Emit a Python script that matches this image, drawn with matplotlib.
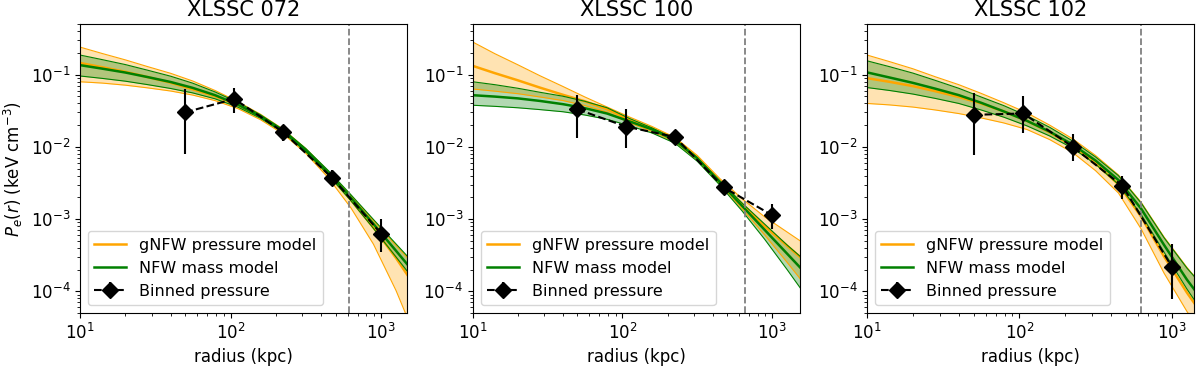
import numpy as np
import matplotlib
matplotlib.use("Agg")
import matplotlib.pyplot as plt

# cluster names, dashed radius marker and x range (kpc)
names = ["XLSSC 072", "XLSSC 100", "XLSSC 102"]
r_vline = [613, 658, 633]
x_max = [1490, 1530, 1400]

r_model = [10, 14, 20, 28, 40, 56, 79, 112, 158, 224, 316, 447, 631, 891, 1259, 1585]

# model curves, log10 of P_e (keV cm^-3): median, upper, lower edge of band
# XLSSC 072
g072_med = [-0.84, -0.898, -0.962, -1.034, -1.113, -1.204, -1.301, -1.421, -1.584, -1.792, -2.06, -2.38, -2.735, -3.118, -3.54, -3.85]
g072_hi = [-0.62, -0.708, -0.797, -0.889, -0.983, -1.089, -1.221, -1.376, -1.549, -1.757, -2.023, -2.338, -2.675, -3.023, -3.365, -3.59]
g072_lo = [-1.10, -1.118, -1.147, -1.184, -1.228, -1.284, -1.361, -1.471, -1.624, -1.822, -2.09, -2.43, -2.845, -3.348, -3.99, -4.49]
n072_med = [-0.87, -0.918, -0.972, -1.034, -1.103, -1.184, -1.286, -1.416, -1.579, -1.782, -2.045, -2.36, -2.705, -3.068, -3.44, -3.69]
n072_hi = [-0.73, -0.793, -0.862, -0.939, -1.023, -1.119, -1.241, -1.386, -1.557, -1.762, -2.023, -2.33, -2.663, -3.006, -3.345, -3.57]
n072_lo = [-1.02, -1.053, -1.092, -1.139, -1.193, -1.254, -1.336, -1.451, -1.604, -1.802, -2.067, -2.39, -2.747, -3.13, -3.525, -3.79]
# XLSSC 100
g100_med = [-0.88, -0.98, -1.08, -1.18, -1.28, -1.37, -1.48, -1.63, -1.75, -1.89, -2.15, -2.48, -2.80, -3.10, -3.37, -3.55]
g100_hi = [-0.55, -0.71, -0.865, -1.015, -1.165, -1.31, -1.45, -1.59, -1.72, -1.87, -2.12, -2.44, -2.72, -2.97, -3.18, -3.32]
g100_lo = [-1.20, -1.23, -1.265, -1.31, -1.36, -1.43, -1.52, -1.67, -1.79, -1.93, -2.18, -2.51, -2.86, -3.22, -3.60, -3.86]
n100_med = [-1.286, -1.305, -1.33, -1.365, -1.41, -1.465, -1.54, -1.65, -1.76, -1.91, -2.16, -2.49, -2.82, -3.15, -3.48, -3.70]
n100_hi = [-1.10, -1.14, -1.19, -1.245, -1.30, -1.37, -1.46, -1.61, -1.74, -1.89, -2.15, -2.47, -2.78, -3.07, -3.36, -3.54]
n100_lo = [-1.425, -1.44, -1.46, -1.485, -1.515, -1.56, -1.62, -1.71, -1.81, -1.95, -2.20, -2.53, -2.89, -3.28, -3.70, -3.99]
# XLSSC 102
g102_med = [-1.05, -1.10, -1.16, -1.23, -1.31, -1.40, -1.51, -1.64, -1.80, -1.99, -2.23, -2.52, -2.97, -3.52, -4.02, -4.32]
g102_hi = [-0.73, -0.82, -0.92, -1.03, -1.14, -1.26, -1.39, -1.53, -1.70, -1.89, -2.12, -2.39, -2.77, -3.25, -3.67, -3.92]
g102_lo = [-1.40, -1.42, -1.45, -1.49, -1.54, -1.60, -1.67, -1.76, -1.90, -2.08, -2.33, -2.64, -3.14, -3.75, -4.28, -4.60]
n102_med = [-0.97, -1.04, -1.115, -1.195, -1.285, -1.39, -1.51, -1.64, -1.79, -1.97, -2.19, -2.46, -2.86, -3.36, -3.84, -4.12]
n102_hi = [-0.81, -0.89, -0.98, -1.08, -1.19, -1.31, -1.43, -1.57, -1.73, -1.92, -2.14, -2.40, -2.78, -3.26, -3.68, -3.92]
n102_lo = [-1.18, -1.22, -1.27, -1.33, -1.40, -1.49, -1.59, -1.71, -1.85, -2.02, -2.24, -2.52, -2.94, -3.46, -3.97, -4.28]

# binned pressure points (keV cm^-3) with upper / lower error ends
r_bins = [50, 106, 224, 475, 1000]
p072 = [0.030, 0.046, 0.016, 0.0037, 0.00063]
p072_up = [0.063, 0.066, 0.020, 0.0047, 0.0010]
p072_dn = [0.0079, 0.029, 0.012, 0.0029, 0.00035]
p100 = [0.033, 0.019, 0.0137, 0.00274, 0.00113]
p100_up = [0.052, 0.033, 0.017, 0.0031, 0.00164]
p100_dn = [0.0134, 0.0095, 0.0112, 0.0024, 0.00072]
p102 = [0.0277, 0.0289, 0.0100, 0.00288, 0.00022]
p102_up = [0.055, 0.0506, 0.0149, 0.0039, 0.00045]
p102_dn = [0.0077, 0.0157, 0.0063, 0.00188, 0.000078]

gnfw = [(g072_med, g072_hi, g072_lo), (g100_med, g100_hi, g100_lo), (g102_med, g102_hi, g102_lo)]
nfw = [(n072_med, n072_hi, n072_lo), (n100_med, n100_hi, n100_lo), (n102_med, n102_hi, n102_lo)]
binned = [(p072, p072_up, p072_dn), (p100, p100_up, p100_dn), (p102, p102_up, p102_dn)]

fig = plt.figure(figsize=(12, 3.7), dpi=100)
lefts = [0.0667, 0.394, 0.7225]

r = np.array(r_model)
for i in range(3):
    ax = fig.add_axes([lefts[i], 0.154, 0.2725, 0.781])

    # gNFW pressure model band
    med, hi, lo = [10 ** np.array(a) for a in gnfw[i]]
    ax.fill_between(r, lo, hi, color="orange", alpha=0.3, lw=0)
    ax.plot(r, hi, color="orange", lw=0.8)
    ax.plot(r, lo, color="orange", lw=0.8)
    ax.plot(r, med, color="orange", lw=1.8, label="gNFW pressure model")

    # NFW mass model band
    med, hi, lo = [10 ** np.array(a) for a in nfw[i]]
    ax.fill_between(r, lo, hi, color="green", alpha=0.3, lw=0)
    ax.plot(r, hi, color="green", lw=0.8)
    ax.plot(r, lo, color="green", lw=0.8)
    ax.plot(r, med, color="green", lw=1.8, label="NFW mass model")

    p, up, dn = [np.array(a) for a in binned[i]]
    ax.errorbar(r_bins, p, yerr=[p - dn, up - p], fmt="D--", color="k",
                ms=8, lw=1.5, elinewidth=1.5, label="Binned pressure")

    ax.axvline(r_vline[i], color="gray", ls="--", lw=1.3)

    ax.set_xscale("log")
    ax.set_yscale("log")
    ax.set_xlim(10, x_max[i])
    ax.set_ylim(5e-5, 0.5)
    ax.set_title(names[i], fontsize=15)
    ax.set_xlabel("radius (kpc)", fontsize=12)
    if i == 0:
        ax.set_ylabel(r"$P_e(r)$ (keV cm$^{-3}$)", fontsize=12)
    ax.tick_params(labelsize=12)
    ax.legend(loc="lower left", fontsize=11.5)

plt.savefig("out.png", dpi=100)
